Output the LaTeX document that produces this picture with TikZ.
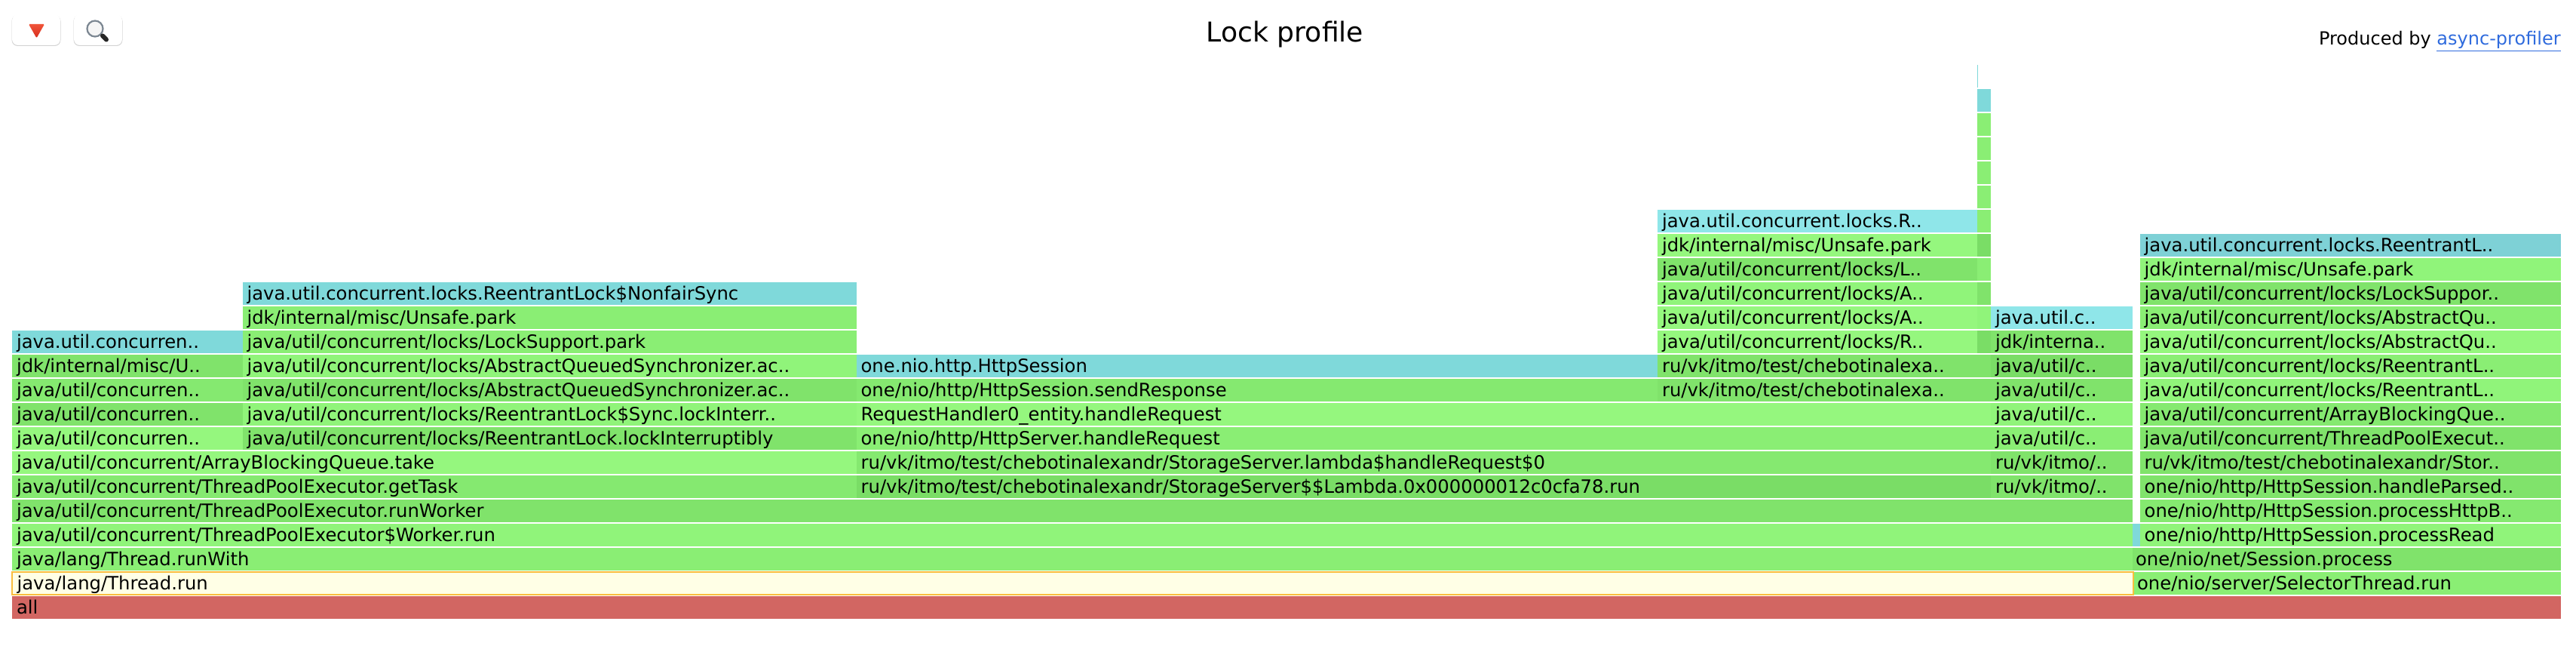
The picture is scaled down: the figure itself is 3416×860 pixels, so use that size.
\documentclass[tikz,border=0pt]{standalone}
\usepackage{fontspec}
\setmainfont{DejaVu Sans}
\definecolor{ga}{HTML}{95F77E}
\definecolor{gb}{HTML}{90F47A}
\definecolor{gc}{HTML}{8AEE74}
\definecolor{gd}{HTML}{85E970}
\definecolor{ge}{HTML}{80E36B}
\definecolor{gf}{HTML}{7ADD66}
\definecolor{ba}{HTML}{7FD9DA}
\definecolor{bb}{HTML}{8FE6E9}
\definecolor{bc}{HTML}{7ED1D6}
\definecolor{linkblue}{HTML}{2F6BDD}
\definecolor{rootred}{HTML}{D26662}
\definecolor{hiborder}{HTML}{F9BE3D}
\definecolor{hifill}{HTML}{FFFFE6}
\definecolor{tritop}{HTML}{F0553A}
\definecolor{tribot}{HTML}{D62C1C}
\definecolor{ringgray}{HTML}{7C8792}
\tikzset{
  x=0.5pt,y=-0.5pt,
  cell/.style={anchor=north west,inner sep=0pt,outer sep=0pt,minimum height=15pt,
    text height=11.7pt,text depth=3.3pt,font=\fontsize{12.15}{14}\selectfont,text=black},
  btn/.style={anchor=north west,inner sep=0pt,outer sep=0pt,minimum width=32pt,minimum height=20.5pt,
    fill=white,rounded corners=4pt}
}
\newcommand\flm[7][]{%
  \pgfmathsetmacro\cw{(#5-#4)*0.5}%
  \pgfmathsetmacro\cy{790-32*#3}%
  \node[cell,fill=#6,minimum width=\cw pt,#1] (#2) at (#4,\cy) {\makebox[\cw pt][l]{\hspace{3pt}#7}};}
\begin{document}
\begin{tikzpicture}
\useasboundingbox (0,0) rectangle (3416,860);
\fill[white] (0,0) rectangle (3416,860);
% toolbar
\foreach \bx/\bn in {16/btna,98/btnb}{
  \fill[black!18,rounded corners=4pt] (\bx-0.5,20) rectangle (\bx+64.5,61);
  \node[btn] (\bn) at (\bx,19) {};
}
\shade[top color=tritop,bottom color=tribot,rounded corners=0.6pt] (38,32) -- (59,32) -- (48.5,50.5) -- cycle;
\draw[line width=1.1pt,draw=ringgray,fill=black!4] (126,38) circle (10.5);
\draw[line width=3pt,line cap=round,black!85] (136,47.5) -- (141,52.5);
% title and credit
\node[anchor=base,inner sep=0pt,font=\fontsize{18.1}{21}\selectfont] (title) at (1704,56) {Lock profile};
\node[anchor=base east,inner sep=0pt,font=\fontsize{12}{14}\selectfont] (credit) at (3396,60) {Produced by \textcolor{linkblue}{\underline{async-profiler}}};
% flame frames
\flm{all}{0}{16}{3396}{rootred}{all}
\flm{runwith}{2}{16}{2828}{gc}{java/lang/Thread.runWith}
\flm{sessproc}{2}{2828}{3396}{ge}{\hspace{-1pt}one/nio/net/Session.process}
\flm{selrun}{1}{2830}{3396}{gc}{\hspace{-1pt}one/nio/server/SelectorThread.run}
\flm[draw=hiborder,line width=1pt]{thrun}{1}{15.5}{2829}{hifill}{\hspace{.5pt}java/lang/Thread.run}
\flm{wrun}{3}{16}{2828}{gb}{java/util/concurrent/ThreadPoolExecutor\$Worker.run}
\flm{bluecell}{3}{2828}{2837.6}{ba}{}
\flm{pread}{3}{2837.6}{3396}{gb}{one/nio/http/HttpSession.processRead}
\flm{rworker}{4}{16}{2828}{ge}{java/util/concurrent/ThreadPoolExecutor.runWorker}
\flm{phttp}{4}{2837.6}{3396}{gd}{one/nio/http/HttpSession.processHttpB..}
\flm{gettask}{5}{16}{1135.6}{gd}{java/util/concurrent/ThreadPoolExecutor.getTask}
\flm{lamrun}{5}{1135.6}{2640}{gf}{ru/vk/itmo/test/chebotinalexandr/StorageServer\$\$Lambda.0x000000012c0cfa78.run}
\flm{rua}{5}{2640}{2828}{ge}{ru/vk/itmo/..}
\flm{hparsed}{5}{2837.6}{3396}{ge}{one/nio/http/HttpSession.handleParsed..}
\flm{abqtake}{6}{16}{1135.6}{ga}{java/util/concurrent/ArrayBlockingQueue.take}
\flm{lamhr}{6}{1135.6}{2640}{gd}{ru/vk/itmo/test/chebotinalexandr/StorageServer.lambda\$handleRequest\$0}
\flm{rub}{6}{2640}{2828}{ge}{ru/vk/itmo/..}
\flm{stor}{6}{2837.6}{3396}{ge}{ru/vk/itmo/test/chebotinalexandr/Stor..}
\flm{la}{7}{16}{321.5}{ga}{java/util/concurren..}
\flm{lockint}{7}{321.5}{1135.6}{ge}{java/util/concurrent/locks/ReentrantLock.lockInterruptibly}
\flm{hserv}{7}{1135.6}{2640}{gc}{one/nio/http/HttpServer.handleRequest}
\flm{ca}{7}{2640}{2828}{gc}{java/util/c..}
\flm{tpe}{7}{2837.6}{3396}{ge}{java/util/concurrent/ThreadPoolExecut..}
\flm{lb}{8}{16}{321.5}{ge}{java/util/concurren..}
\flm{syncli}{8}{321.5}{1135.6}{gb}{java/util/concurrent/locks/ReentrantLock\$Sync.lockInterr..}
\flm{rh}{8}{1135.6}{2640}{ga}{RequestHandler0\_entity.handleRequest}
\flm{cb}{8}{2640}{2828}{gb}{java/util/c..}
\flm{abqr}{8}{2837.6}{3396}{gd}{java/util/concurrent/ArrayBlockingQue..}
\flm{lc}{9}{16}{321.5}{gd}{java/util/concurren..}
\flm{aqsa}{9}{321.5}{1135.6}{ge}{java/util/concurrent/locks/AbstractQueuedSynchronizer.ac..}
\flm{sendr}{9}{1135.6}{2198}{gd}{one/nio/http/HttpSession.sendResponse}
\flm{ruc}{9}{2198}{2640}{ge}{ru/vk/itmo/test/chebotinalexa..}
\flm{cc}{9}{2640}{2828}{ge}{java/util/c..}
\flm{rla}{9}{2837.6}{3396}{gb}{java/util/concurrent/locks/ReentrantL..}
\flm{jdka}{10}{16}{321.5}{ge}{jdk/internal/misc/U..}
\flm{aqsb}{10}{321.5}{1135.6}{gb}{java/util/concurrent/locks/AbstractQueuedSynchronizer.ac..}
\flm{sess}{10}{1135.6}{2198}{ba}{one.nio.http.HttpSession}
\flm{rud}{10}{2198}{2640}{ge}{ru/vk/itmo/test/chebotinalexa..}
\flm{cd}{10}{2640}{2828}{gf}{java/util/c..}
\flm{rlb}{10}{2837.6}{3396}{gc}{java/util/concurrent/locks/ReentrantL..}
\flm{jca}{11}{16}{321.5}{ba}{java.util.concurren..}
\flm{lsp}{11}{321.5}{1135.6}{gc}{java/util/concurrent/locks/LockSupport.park}
\flm{rlc}{11}{2198}{2622}{ga}{java/util/concurrent/locks/R..}
\flm{na}{11}{2622}{2640}{gf}{}
\flm{jdkb}{11}{2640}{2828}{ge}{jdk/interna..}
\flm{aqa}{11}{2837.6}{3396}{ga}{java/util/concurrent/locks/AbstractQu..}
\flm{unsa}{12}{321.5}{1135.6}{gc}{jdk/internal/misc/Unsafe.park}
\flm{aa}{12}{2198}{2622}{ga}{java/util/concurrent/locks/A..}
\flm{nb}{12}{2622}{2640}{gb}{}
\flm{jcb}{12}{2640}{2828}{bb}{java.util.c..}
\flm{aqb}{12}{2837.6}{3396}{gc}{java/util/concurrent/locks/AbstractQu..}
\flm{nfs}{13}{321.5}{1135.6}{ba}{java.util.concurrent.locks.ReentrantLock\$NonfairSync}
\flm{ab}{13}{2198}{2622}{gb}{java/util/concurrent/locks/A..}
\flm{nc}{13}{2622}{2640}{ge}{}
\flm{lsq}{13}{2837.6}{3396}{ge}{java/util/concurrent/locks/LockSuppor..}
\flm{lt}{14}{2198}{2622}{ge}{java/util/concurrent/locks/L..}
\flm{nd}{14}{2622}{2640}{gc}{}
\flm{unsb}{14}{2837.6}{3396}{gb}{jdk/internal/misc/Unsafe.park}
\flm{unsc}{15}{2198}{2622}{ga}{jdk/internal/misc/Unsafe.park}
\flm{ne}{15}{2622}{2640}{gf}{}
\flm{rlk}{15}{2837.6}{3396}{bc}{java.util.concurrent.locks.ReentrantL..}
\flm{jcc}{16}{2198}{2622}{bb}{java.util.concurrent.locks.R..}
\flm{nf}{16}{2622}{2640}{gc}{}
\flm{ng}{17}{2622}{2640}{gc}{}
\flm{nh}{18}{2622}{2640}{gc}{}
\flm{ni}{19}{2622}{2640}{gc}{}
\flm{nj}{20}{2622}{2640}{gc}{}
\flm{nk}{21}{2622}{2640}{ba}{}
\flm{nl}{22}{2621.5}{2622.5}{ba}{}
\end{tikzpicture}
\end{document}
